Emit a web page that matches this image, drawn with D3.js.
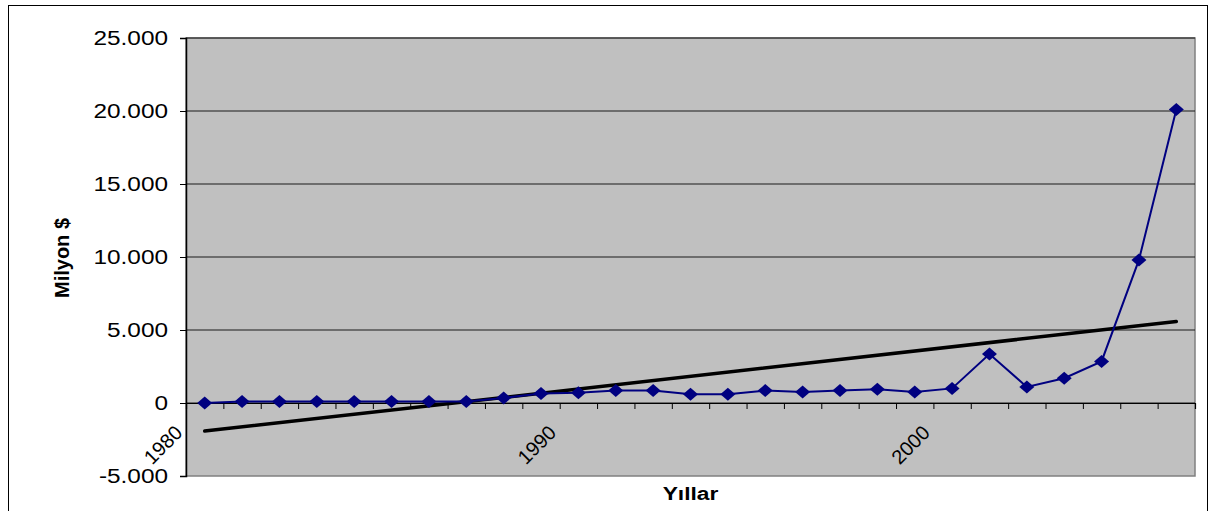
<!DOCTYPE html>
<html>
<head>
<meta charset="utf-8">
<script src="https://cdn.jsdelivr.net/npm/d3@7"></script>
<style>
  body { margin: 0; background: #fff; }
  text { font-family: "Liberation Sans", Arial, sans-serif; fill: #000; }
</style>
</head>
<body>
<svg id="chart" width="1212" height="511"></svg>
<script>
// yearly values, million $
const years = [1980, 1981, 1982, 1983, 1984, 1985, 1986, 1987, 1988, 1989,
               1990, 1991, 1992, 1993, 1994, 1995, 1996, 1997, 1998, 1999,
               2000, 2001, 2002, 2003, 2004, 2005, 2006];
const values = [0, 100, 100, 100, 100, 100, 100, 100, 350, 650,
                700, 850, 850, 600, 600, 850, 750, 850, 950, 750,
                1000, 3350, 1100, 1700, 2850, 9800, 20100];
const yTicks = [-5000, 0, 5000, 10000, 15000, 20000, 25000];
const xLabels = [1980, 1990, 2000];

const svg = d3.select("#chart");
const plotL = 186, plotR = 1195, plotT = 38, plotB = 476;
const stretch = 1.25;

const fmt = d3.formatLocale({decimal: ",", thousands: ".", grouping: [3], currency: ["", "$"], minus: "-"}).format(",");

const x = d3.scaleBand().domain(years).range([plotL, plotR]).padding(0);
const y = d3.scaleLinear().domain([-5000, 25000]).range([plotB, plotT]);
const cx = d => x(d) + x.bandwidth() / 2;

// outer chart border
svg.append("rect")
    .attr("x", 8.5).attr("y", 5.5)
    .attr("width", 1199).attr("height", 520)
    .attr("fill", "#fff").attr("stroke", "#000").attr("stroke-width", 1);

// plot area
svg.append("rect")
    .attr("x", plotL).attr("y", plotT)
    .attr("width", plotR - plotL).attr("height", plotB - plotT)
    .attr("fill", "#c0c0c0").attr("stroke", "#808080").attr("stroke-width", 1.5);

// gridlines
svg.append("g")
    .selectAll("line")
    .data(yTicks.filter(t => t > -5000))
    .enter().append("line")
    .attr("x1", plotL).attr("x2", plotR)
    .attr("y1", d => y(d)).attr("y2", d => y(d))
    .attr("stroke", "#1a1a1a").attr("stroke-width", 1.2);

// y axis
const yAxis = svg.append("g")
    .attr("transform", `translate(${plotL},0)`)
    .call(d3.axisLeft(y).tickValues(yTicks).tickSize(6).tickPadding(0).tickFormat(""));
yAxis.select(".domain").attr("stroke", "#000").attr("stroke-width", 1.5);
yAxis.selectAll(".tick line").attr("stroke", "#000");

svg.append("g")
    .selectAll("text")
    .data(yTicks)
    .enter().append("text")
    .attr("transform", d => `translate(${plotL - 18},${y(d) + 7}) scale(${stretch},1)`)
    .attr("text-anchor", "end")
    .style("font-size", "19.5px")
    .text(d => fmt(d));

// x axis at zero, ticks between categories
const xEdges = d3.scaleLinear().domain([0, years.length]).range([plotL, plotR]);
const xAxis = svg.append("g")
    .attr("transform", `translate(0,${y(0)})`)
    .call(d3.axisBottom(xEdges).tickValues(d3.range(1, years.length + 1)).tickSize(6).tickFormat(""));
xAxis.select(".domain").attr("stroke", "#000").attr("stroke-width", 1.2);
xAxis.selectAll(".tick line").attr("stroke", "#000");

svg.append("g")
    .selectAll("text")
    .data(xLabels)
    .enter().append("text")
    .attr("transform", d => `translate(${cx(d) - 21},${y(0) + 31}) rotate(-45)`)
    .attr("text-anchor", "end")
    .style("font-size", "20px")
    .text(d => d);

// trend line (linear least squares over the series)
const n = values.length;
const mx = d3.mean(values, (v, i) => i), my = d3.mean(values);
const slope = d3.sum(values, (v, i) => (i - mx) * (v - my)) / d3.sum(values, (v, i) => (i - mx) * (i - mx));
const icpt = my - slope * mx;
const trend = [0, n - 1].map(i => ({year: years[i], v: icpt + slope * i}));

svg.append("path")
    .datum(trend)
    .attr("d", d3.line().x(d => cx(d.year)).y(d => y(d.v)))
    .attr("fill", "none").attr("stroke", "#000").attr("stroke-width", 3.5)
    .attr("stroke-linecap", "round");

// data line
const series = years.map((yr, i) => ({year: yr, v: values[i]}));
svg.append("path")
    .datum(series)
    .attr("d", d3.line().x(d => cx(d.year)).y(d => y(d.v)))
    .attr("fill", "none").attr("stroke", "#000080").attr("stroke-width", 2);

svg.append("g")
    .selectAll("path")
    .data(series)
    .enter().append("path")
    .attr("transform", d => `translate(${cx(d.year)},${y(d.v)})`)
    .attr("d", "M0,-6.5L7.5,0L0,6.5L-7.5,0Z")
    .attr("fill", "#000080");

// axis titles
svg.append("text")
    .attr("transform", `translate(69,258) rotate(-90)`)
    .attr("text-anchor", "middle")
    .style("font-size", "20px").style("font-weight", "bold")
    .text("Milyon $");

svg.append("text")
    .attr("transform", `translate(${(plotL + plotR) / 2},500) scale(1.2,1)`)
    .attr("text-anchor", "middle")
    .style("font-size", "19px").style("font-weight", "bold")
    .text("Yıllar");
</script>
</body>
</html>
